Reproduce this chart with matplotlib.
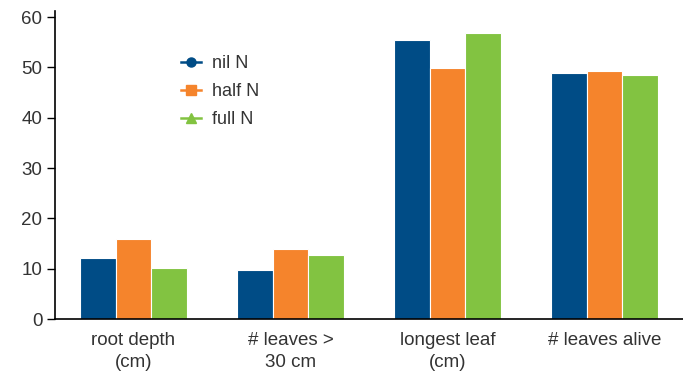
import matplotlib.pyplot as plt
import numpy as np

categories = ["root depth\n(cm)", "# leaves >\n30 cm", "longest leaf\n(cm)", "# leaves alive"]
series_names = ["nil N", "half N", "full N"]
nil_n = [12.2, 9.8, 55.4, 48.8]
half_n = [15.8, 14.0, 49.8, 49.2]
full_n = [10.2, 12.7, 56.8, 48.4]
y_ticks = [0, 10, 20, 30, 40, 50, 60]

colors = ["#004c86", "#f5842c", "#82c341"]
markers = ["o", "s", "^"]

plt.rcParams["font.family"] = ["Liberation Sans", "DejaVu Sans"]

fig = plt.figure(figsize=(6.83, 3.78), dpi=100)
ax = fig.add_axes([0.0805, 0.156, 0.9195, 0.815])

x = np.arange(len(categories))
width = 0.228
for offset, values, color in zip([-1, 0, 1], [nil_n, half_n, full_n], colors):
    ax.bar(x + offset * width, values, width, color=color, edgecolor="white", linewidth=0.8)

ax.set_xlim(-0.5, 3.5)
ax.set_ylim(0, 61.2)
ax.set_yticks(y_ticks)
ax.set_xticks(x)
ax.set_xticklabels(categories, fontsize=13.5, color="#333333", linespacing=1.45)
ax.tick_params(axis="x", length=0, pad=9)
ax.tick_params(axis="y", length=6, width=1, labelsize=13.5, labelcolor="#333333", pad=3)
for side in ["top", "right"]:
    ax.spines[side].set_visible(False)
ax.spines["left"].set_linewidth(1.2)
ax.spines["bottom"].set_linewidth(1.2)

handles = [
    plt.Line2D([0], [0], color=c, marker=m, markersize=6.5, linewidth=1.8)
    for c, m in zip(colors, markers)
]
ax.legend(handles, series_names, loc="upper left", bbox_to_anchor=(0.175, 0.91),
          frameon=False, fontsize=13, handlelength=1.1, handletextpad=0.6,
          labelspacing=0.62, labelcolor="#333333")

fig.savefig("out.png", dpi=100)
